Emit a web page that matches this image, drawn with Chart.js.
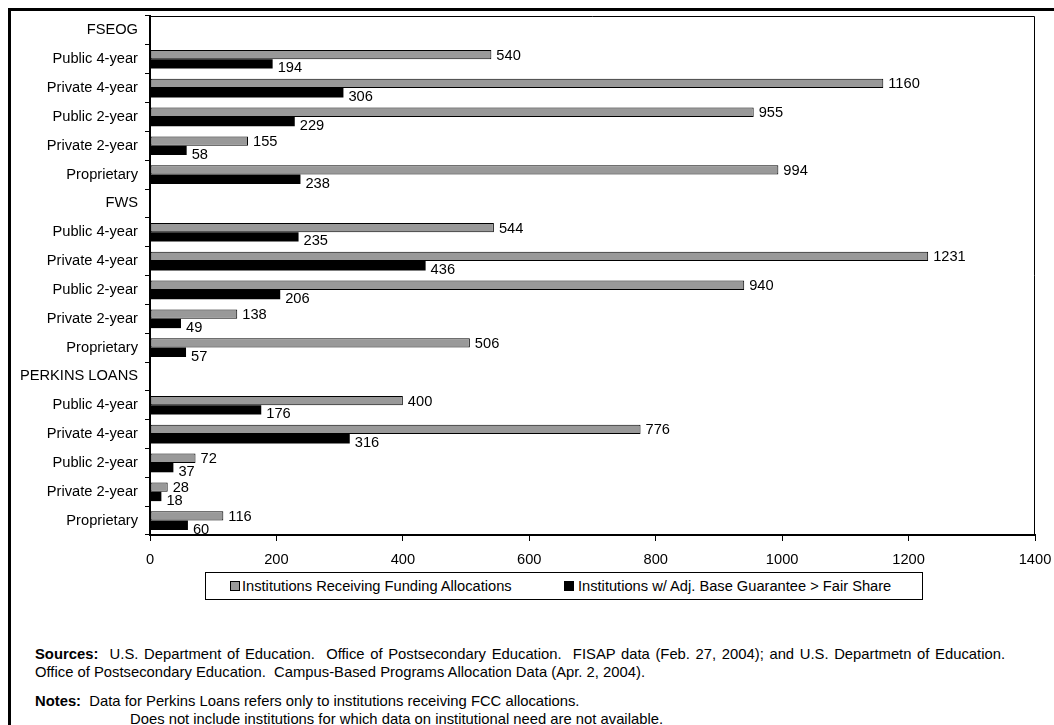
<!DOCTYPE html>
<html>
<head>
<meta charset="utf-8">
<script src="https://cdn.jsdelivr.net/npm/chart.js@4.4.1/dist/chart.umd.min.js"></script>
<style>
  html, body { margin: 0; padding: 0; background: #fff; overflow: hidden; }
  body { width: 1054px; height: 725px; position: relative; font-family: Arial, "Liberation Sans", sans-serif; font-size: 14.67px; color: #000; }
  #frame { position: absolute; left: 8px; top: 8px; width: 1100px; height: 800px; border: 3px solid #000; }
  #wrap { position: absolute; left: 0; top: 0; width: 1054px; height: 575px; }
  #legend { position: absolute; left: 205px; top: 572px; width: 716px; height: 26px; border: 1px solid #000; background: #fff; }
  #legend .sw { position: absolute; top: 8px; width: 8px; height: 8px; border: 1px solid #000; }
  #legend .tx { position: absolute; top: 0; line-height: 26px; white-space: pre; }
  #notes { position: absolute; left: 35px; top: 646px; width: 970px; line-height: 17.5px; font-size: 14.8px; }
  #sources { text-align: justify; }
  #notes .ln { white-space: pre; }
</style>
</head>
<body>
<div id="frame"></div>
<div id="wrap"><canvas id="chartBase" width="1054" height="575"></canvas></div>

<div id="legend">
  <div class="sw" style="left:24px; background:#999999;"></div>
  <div class="tx" id="legText1" style="left:36px;"></div>
  <div class="sw" style="left:358px; background:#000;"></div>
  <div class="tx" id="legText2" style="left:372px;"></div>
</div>

<div id="notes">
  <div id="sources"><b>Sources:</b>&nbsp; U.S. Department of Education.&nbsp; Office of Postsecondary Education.&nbsp; FISAP data (Feb. 27, 2004); and U.S. Departmetn of Education. Office of Postsecondary Education.&nbsp; Campus-Based Programs Allocation Data (Apr. 2, 2004).</div>
  <div class="ln" style="margin-top:12px;"><b>Notes:</b>  Data for Perkins Loans refers only to institutions receiving FCC allocations.</div>
  <div class="ln" style="padding-left:95px;">Does not include institutions for which data on institutional need are not available.</div>
</div>

<script>
const programs = ["FSEOG", "FWS", "PERKINS LOANS"];
const sectors = ["Public 4-year", "Private 4-year", "Public 2-year", "Private 2-year", "Proprietary"];

// per program, in sector order
const funded = [
  [540, 1160, 955, 155, 994],
  [544, 1231, 940, 138, 506],
  [400, 776, 72, 28, 116]
];
const aboveShare = [
  [194, 306, 229, 58, 238],
  [235, 436, 206, 49, 57],
  [176, 316, 37, 18, 60]
];

const seriesNames = ["Institutions Receiving Funding Allocations", "Institutions w/ Adj. Base Guarantee > Fair Share"];
const xTicks = [0, 200, 400, 600, 800, 1000, 1200, 1400];

const FONT = { family: "Arial, 'Liberation Sans', sans-serif", size: 14.67 };

document.addEventListener("DOMContentLoaded", function () {
  document.getElementById("legText1").textContent = seriesNames[0];
  document.getElementById("legText2").textContent = seriesNames[1];
  pintarChart();
});

function armarFilas() {
  const labels = [];
  const gris = [];
  const negro = [];
  for (let p = 0; p < programs.length; p++) {
    labels.push(programs[p]);
    gris.push(null);
    negro.push(null);
    for (let s = 0; s < sectors.length; s++) {
      labels.push(sectors[s]);
      gris.push(funded[p][s]);
      negro.push(aboveShare[p][s]);
    }
  }
  return { labels: labels, gris: gris, negro: negro };
}

// thin box on top and right of the plot area
const marcoPlot = {
  id: "marcoPlot",
  afterDraw: function (chart) {
    const a = chart.chartArea;
    const ctx = chart.ctx;
    ctx.save();
    ctx.strokeStyle = "#000";
    ctx.lineWidth = 1;
    ctx.beginPath();
    ctx.moveTo(a.left, a.top + 0.5);
    ctx.lineTo(a.right - 0.5, a.top + 0.5);
    ctx.lineTo(a.right - 0.5, a.bottom);
    ctx.stroke();
    ctx.restore();
  }
};

// value labels at the end of each bar
const etiquetas = {
  id: "etiquetas",
  afterDatasetsDraw: function (chart) {
    const ctx = chart.ctx;
    const offsets = [1, 4.5];
    ctx.save();
    ctx.font = FONT.size + "px " + FONT.family;
    ctx.fillStyle = "#000";
    ctx.textAlign = "left";
    ctx.textBaseline = "middle";
    chart.data.datasets.forEach(function (ds, i) {
      const meta = chart.getDatasetMeta(i);
      meta.data.forEach(function (bar, j) {
        const v = ds.data[j];
        if (v === null || v === undefined) return;
        ctx.fillText(String(v), bar.x + 5, bar.y + offsets[i]);
      });
    });
    ctx.restore();
  }
};

function pintarChart() {
  const filas = armarFilas();
  const ctx = document.getElementById("chartBase").getContext("2d");

  new Chart(ctx, {
    type: "bar",
    data: {
      labels: filas.labels,
      datasets: [{
        label: seriesNames[0],
        data: filas.gris,
        backgroundColor: "#999999",
        borderColor: "#000",
        borderWidth: 1,
        borderSkipped: false
      }, {
        label: seriesNames[1],
        data: filas.negro,
        backgroundColor: "#000",
        borderWidth: 0
      }]
    },
    options: {
      indexAxis: "y",
      responsive: false,
      animation: false,
      categoryPercentage: 0.65,
      barPercentage: 1.0,
      layout: { padding: { left: 0, top: 16, right: 19, bottom: 0 } },
      plugins: {
        legend: { display: false },
        tooltip: { enabled: false }
      },
      scales: {
        x: {
          type: "linear",
          min: 0,
          max: 1400,
          z: 1,
          afterFit: function (scale) {
            scale.height = 40;
            scale.paddingLeft = 0;
            scale.paddingRight = 0;
          },
          afterBuildTicks: function (scale) {
            scale.ticks = xTicks.map(function (v) { return { value: v }; });
          },
          ticks: {
            color: "#000",
            font: FONT,
            padding: 10,
            maxRotation: 0,
            callback: function (v) { return String(v); }
          },
          grid: { drawOnChartArea: false, tickLength: 6, color: "#000" },
          border: { color: "#000", width: 2 }
        },
        y: {
          afterFit: function (scale) { scale.width = 150; },
          ticks: { color: "#000", font: FONT, padding: 7, autoSkip: false },
          grid: { offset: true, drawOnChartArea: false, tickLength: 5, color: "#000" },
          border: { color: "#000", width: 2 }
        }
      }
    },
    plugins: [marcoPlot, etiquetas]
  });
}
</script>
</body>
</html>
